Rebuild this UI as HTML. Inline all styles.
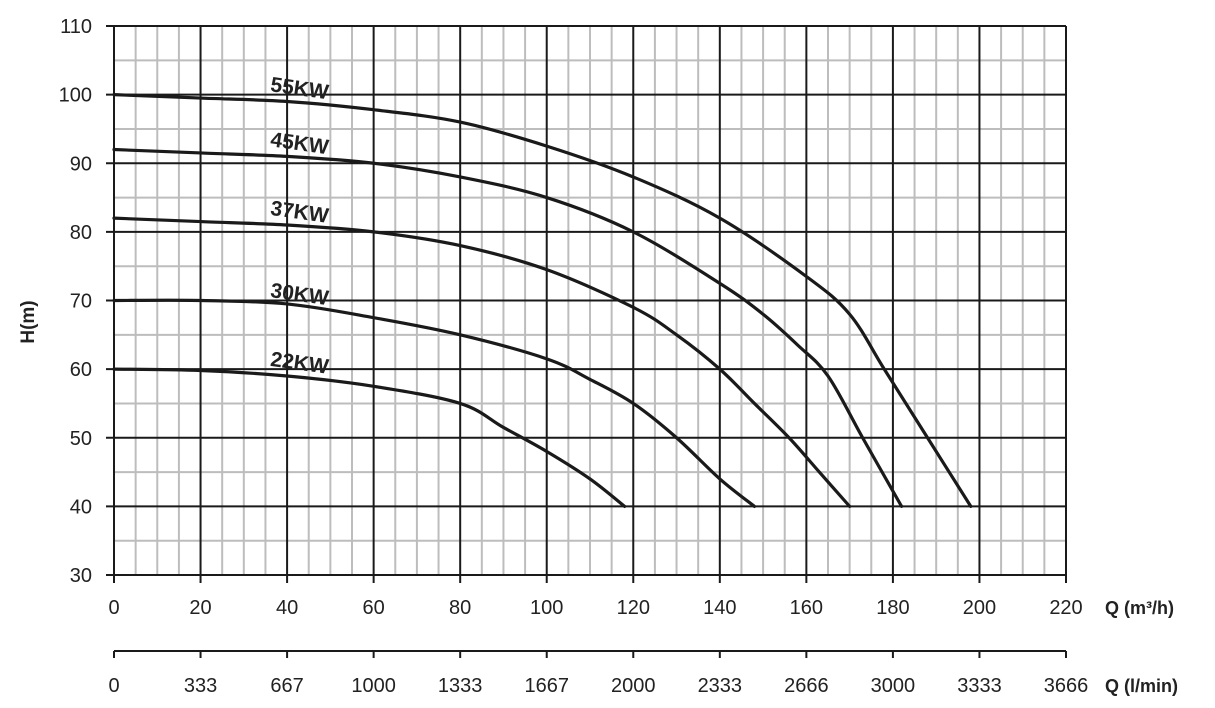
<!DOCTYPE html>
<html><head><meta charset="utf-8"><style>
html,body{margin:0;padding:0;background:#fff;}
svg{display:block;font-family:"Liberation Sans",sans-serif;}
</style></head><body>
<svg id="chart" width="1215" height="708" viewBox="0 0 1215 708" xmlns="http://www.w3.org/2000/svg">
<g id="grid"></g>
<g id="axes"></g>
<g id="curves"></g>
<text x="34" y="322" font-size="19" font-weight="bold" fill="#222" text-anchor="middle" transform="rotate(-90 34 322)">H(m)</text>
<text x="1105" y="614" font-size="18" font-weight="bold" fill="#222">Q (m³/h)</text>
<text x="1105" y="692" font-size="18" font-weight="bold" fill="#222">Q (l/min)</text>
</svg>
<script>
const xTicks=[0,20,40,60,80,100,120,140,160,180,200,220];
const yTicks=[30,40,50,60,70,80,90,100,110];
const lminTicks=["0","333","667","1000","1333","1667","2000","2333","2666","3000","3333","3666"];
const seriesNames=["55KW","45KW","37KW","30KW","22KW"];
const q55=[0,20,40,60,80,100,120,140,160,170,178,188,198];
const h55=[100,99.5,99,97.8,96,92.5,88,82,73.5,68,60,50,40];
const q45=[0,20,40,60,80,100,120,140,150,158,165,173,182];
const h45=[92,91.5,91,90,88,85,80,72.5,68,63.5,59,50,40];
const q37=[0,20,40,60,80,100,120,130,140,148,156,163,170];
const h37=[82,81.5,81,80,78,74.5,69,65,60,55,50,45,40];
const q30=[0,20,40,60,80,100,110,120,130,140,148];
const h30=[70,70,69.5,67.5,65,61.5,58.5,55,50,44,40];
const q22=[0,20,40,60,80,90,100,110,118];
const h22=[60,59.8,59,57.5,55,51.5,48,44,40];
const labelQ=[36,36,36,36,36];
const labelH=[100.5,92.5,82.5,70.5,60.5];

const X0=114,X1=1066,Y0=575,Y1=26;
const xS=v=>X0+(v-0)/(220-0)*(X1-X0);
const yS=v=>Y0-(v-30)/(110-30)*(Y0-Y1);
const NS="http://www.w3.org/2000/svg";
function mk(tag,attrs,parent){const e=document.createElementNS(NS,tag);for(const k in attrs)e.setAttribute(k,attrs[k]);parent.appendChild(e);return e;}
const grid=document.getElementById('grid'),axes=document.getElementById('axes'),curves=document.getElementById('curves');
for(let v=0;v<=220;v+=5){if(v%20===0)continue;const l=mk('line',{x1:xS(v),x2:xS(v),y1:Y1,y2:Y0,stroke:'#bdbdbd','stroke-width':2},grid);

}
for(let v=30;v<=110;v+=5){if(v%10===0)continue;const l=mk('line',{x1:X0,x2:X1,y1:yS(v),y2:yS(v),stroke:'#bdbdbd','stroke-width':2},grid);

}
xTicks.forEach((v,i)=>{const l=mk('line',{x1:xS(v),x2:xS(v),y1:Y1,y2:Y0+8,stroke:'#1a1a1a','stroke-width':2},grid);


const t=mk('text',{x:xS(v),y:614,'font-size':20,fill:'#222','text-anchor':'middle'},axes);t.textContent=v;


const tk=mk('line',{x1:xS(v),x2:xS(v),y1:651,y2:658,stroke:'#1a1a1a','stroke-width':2},axes);


const t2=mk('text',{x:xS(v),y:692,'font-size':20,fill:'#222','text-anchor':'middle'},axes);t2.textContent=lminTicks[i];

});
yTicks.forEach(v=>{const l=mk('line',{x1:X0-8,x2:X1,y1:yS(v),y2:yS(v),stroke:'#1a1a1a','stroke-width':2},grid);


const t=mk('text',{x:92,y:yS(v)+7,'font-size':20,fill:'#222','text-anchor':'end'},axes);t.textContent=v;

});
const ax2=mk('line',{x1:X0,x2:X1,y1:651,y2:651,stroke:'#1a1a1a','stroke-width':2},axes);


const allQ=[q55,q45,q37,q30,q22],allH=[h55,h45,h37,h30,h22];
function pathFor(qs,hs){const p=qs.map((q,i)=>[xS(q),yS(hs[i])]);let d=`M${p[0][0]},${p[0][1]}`;
for(let i=0;i<p.length-1;i++){const a=p[Math.max(i-1,0)],b=p[i],c=p[i+1],e=p[Math.min(i+2,p.length-1)];
const c1=[b[0]+(c[0]-a[0])/6,b[1]+(c[1]-a[1])/6],c2=[c[0]-(e[0]-b[0])/6,c[1]-(e[1]-b[1])/6];
d+=` C${c1[0]},${c1[1]} ${c2[0]},${c2[1]} ${c[0]},${c[1]}`;}return d;}
seriesNames.forEach((n,i)=>{const p=mk('path',{d:pathFor(allQ[i],allH[i]),fill:'none',stroke:'#1a1a1a','stroke-width':3.2,'stroke-linecap':'round','stroke-linejoin':'round'},curves);


const lx=xS(labelQ[i]),ly=yS(labelH[i]);
const t=mk('text',{x:lx,y:ly,'font-size':21,'font-weight':'bold',fill:'#222',transform:`rotate(8 ${lx} ${ly})`},curves);t.textContent=n;

});
</script>
</body></html>
